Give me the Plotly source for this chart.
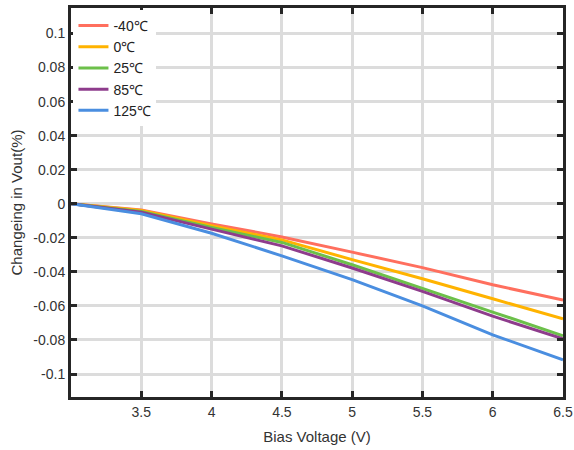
import plotly.graph_objects as go

bias_v = [3.0, 3.5, 4.0, 4.5, 5.0, 5.5, 6.0, 6.5]
series_names = ["-40℃", "0℃", "25℃", "85℃", "125℃"]
t_m40 = [0, -0.0036, -0.0118, -0.0195, -0.0284, -0.0375, -0.0476, -0.0566]
t_0 = [0, -0.0040, -0.0129, -0.0212, -0.0328, -0.0440, -0.0558, -0.0676]
t_25 = [0, -0.0045, -0.0139, -0.0227, -0.0358, -0.0495, -0.0636, -0.0775]
t_85 = [0, -0.0050, -0.0149, -0.0247, -0.0377, -0.0515, -0.0660, -0.0793]
t_125 = [0, -0.0059, -0.0173, -0.0306, -0.0446, -0.0600, -0.0770, -0.0916]
colors = ["#FF6F5E", "#FFB300", "#6CC04A", "#8E3C8C", "#4A8EE0"]

y_tickvals = [0.1, 0.08, 0.06, 0.04, 0.02, 0, -0.02, -0.04, -0.06, -0.08, -0.1]
y_ticktext = ["0.1", "0.08", "0.06", "0.04", "0.02", "0", "-0.02", "-0.04", "-0.06", "-0.08", "-0.1"]
x_tickvals = [3.5, 4, 4.5, 5, 5.5, 6, 6.5]
x_ticktext = ["3.5", "4", "4.5", "5", "5.5", "6", "6.5"]

fig = go.Figure()
for name, ys, c in zip(series_names, [t_m40, t_0, t_25, t_85, t_125], colors):
    fig.add_trace(go.Scatter(x=bias_v, y=ys, mode="lines", name=name,
                             line=dict(color=c, width=3)))

font = "Liberation Sans, Arial, sans-serif"
axis_common = dict(showline=True, linecolor="#262626", linewidth=3, mirror="ticks",
                   ticks="inside", ticklen=6, tickwidth=3, tickcolor="#262626",
                   showgrid=True, gridcolor="#DCDCDC", gridwidth=3, zeroline=False,
                   automargin=False,
                   tickfont=dict(family=font, size=14, color="#333333"))

fig.update_layout(
    width=574, height=450,
    margin=dict(l=71, r=11, t=8, b=53),
    paper_bgcolor="white", plot_bgcolor="white",
    showlegend=True,
    legend=dict(x=0.005, y=0.995, xanchor="left", yanchor="top",
                bgcolor="white", borderwidth=0,
                font=dict(family=font, size=14, color="#222222"),
                tracegroupgap=0, itemwidth=30),
    xaxis=dict(range=[3.0, 6.5], tickmode="array", tickvals=x_tickvals, ticktext=x_ticktext,
               title=dict(text="Bias Voltage (V)", font=dict(family=font, size=15, color="#333333"),
                          standoff=13),
               **axis_common),
    yaxis=dict(range=[-0.1135, 0.115], tickmode="array", tickvals=y_tickvals, ticktext=y_ticktext,
               title=dict(text="Changeing in Vout(%)", font=dict(family=font, size=15, color="#333333"),
                          standoff=8),
               **axis_common),
)

fig.write_html("out.html")
